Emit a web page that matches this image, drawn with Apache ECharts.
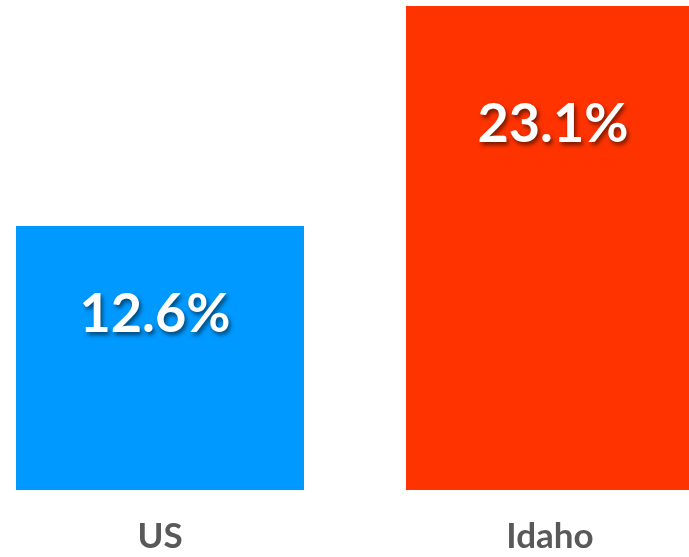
<!DOCTYPE html>
<html>
<head>
<meta charset="utf-8">
<style>
  html, body { margin: 0; padding: 0; background: #ffffff; }
  #chart { width: 689px; height: 557px; }
</style>
<script src="https://cdn.jsdelivr.net/npm/echarts@6/dist/echarts.min.js"></script>
</head>
<body>
<div id="chart"></div>
<script>
const categories = ['US', 'Idaho'];
const values = [12.6, 23.1];
const barColors = ['#0099FF', '#FF3300'];
const labelDistances = [62, 92];
const labelShiftX = [-5, 3];

const chart = echarts.init(document.getElementById('chart'), null, { renderer: 'canvas' });

const seriesData = values.map((v, i) => ({
  value: v,
  itemStyle: { color: barColors[i] },
  label: { distance: labelDistances[i], offset: [labelShiftX[i], 0] }
}));

chart.setOption({
  animation: false,
  backgroundColor: '#ffffff',
  grid: { left: -35, width: 780, top: 6, bottom: 67, containLabel: false, outerBoundsMode: 'none' },
  xAxis: {
    type: 'category',
    data: categories,
    axisLine: { show: false },
    axisTick: { show: false },
    axisLabel: {
      color: '#595959',
      fontFamily: 'Lato',
      fontWeight: 'bold',
      fontSize: 35,
      margin: 29
    }
  },
  yAxis: {
    type: 'value',
    min: 0,
    max: 23.1,
    show: false,
    splitLine: { show: false }
  },
  series: [{
    type: 'bar',
    data: seriesData,
    barWidth: 288,
    label: {
      show: true,
      position: 'insideTop',
      formatter: p => p.value.toFixed(1) + '%',
      color: '#ffffff',
      fontFamily: 'Lato',
      fontWeight: 'bold',
      fontSize: 54,
      textShadowColor: 'rgba(0,0,0,0.55)',
      textShadowBlur: 4,
      textShadowOffsetX: 2,
      textShadowOffsetY: 3
    }
  }]
});
</script>
</body>
</html>
